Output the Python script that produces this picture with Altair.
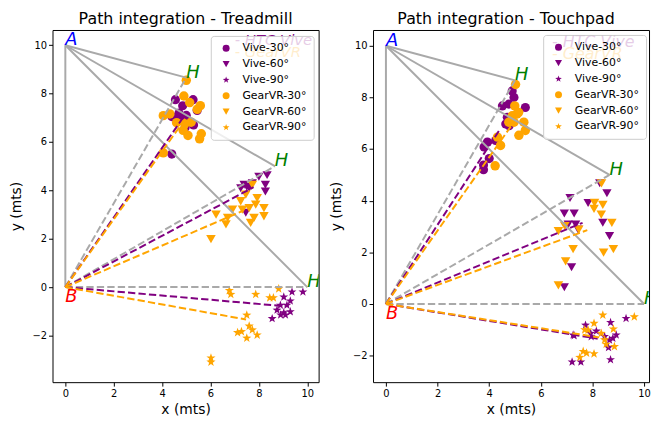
import altair as alt
import numpy as np
import pandas as pd

SERIES = ["Vive-30°", "Vive-60°", "Vive-90°", "GearVR-30°", "GearVR-60°", "GearVR-90°"]
SERIES_COLORS = ["purple", "purple", "purple", "orange", "orange", "orange"]
STAR = ("M0,-1L0.235,-0.324L0.951,-0.309L0.38,0.124L0.588,0.809L0,0.4"
        "L-0.588,0.809L-0.38,0.124L-0.951,-0.309L-0.235,-0.324Z")
SERIES_SHAPES = ["circle", "triangle-down", STAR, "circle", "triangle-down", STAR]
SERIES_SIZES = [85, 95, 150, 85, 95, 150]
SERIES_GROUP = ["Vive", "Vive", "Vive", "GearVR", "GearVR", "GearVR"]

H_X = [5.0, 8.66, 10.0]
H_Y = [8.66, 5.0, 0.0]
A_X, A_Y = 0.0, 10.0
B_X, B_Y = 0.0, 0.0

# ---------------- Treadmill ----------------
T_vive30_x = [4.55, 5.28, 4.85, 5.45, 4.40, 4.60, 4.75, 4.90, 5.05, 5.30, 4.95, 4.40, 4.70, 5.00]
T_vive30_y = [7.75, 7.75, 7.50, 7.30, 7.05, 6.95, 6.90, 7.00, 6.85, 6.70, 6.60, 5.50, 7.20, 7.10]
T_vive60_x = [8.34, 8.00, 7.39, 7.50, 7.73, 8.27, 8.27, 7.25, 7.46, 7.60]
T_vive60_y = [4.63, 4.56, 4.23, 4.15, 4.29, 4.23, 3.95, 4.09, 3.07, 4.10]
T_vive90_x = [9.37, 9.82, 9.03, 9.30, 8.89, 9.16, 8.75, 9.03, 9.30, 8.55, 9.10, 8.90]
T_vive90_y = [-0.20, -0.20, -0.41, -0.57, -0.75, -0.75, -0.95, -1.06, -1.02, -1.30, -1.15, -1.15]
T_gear30_x = [5.00, 4.90, 5.14, 5.58, 5.45, 4.05, 4.32, 4.94, 5.20, 4.87, 5.07, 5.62, 5.55, 4.05, 4.60]
T_gear30_y = [8.55, 7.90, 7.63, 7.50, 7.35, 7.09, 7.16, 6.75, 6.82, 6.48, 6.27, 6.34, 6.13, 5.55, 6.80]
T_gear60_x = [7.73, 7.46, 7.93, 7.25, 7.87, 6.91, 7.32, 7.60, 8.21, 7.80, 8.21, 7.66, 6.71, 6.23, 6.64, 6.02]
T_gear60_y = [4.23, 3.82, 3.68, 3.55, 3.41, 3.20, 3.20, 3.27, 3.27, 2.86, 2.93, 2.66, 2.86, 3.00, 2.59, 1.98]
T_gear90_x = [6.78, 6.84, 7.87, 8.82, 8.45, 8.60, 7.50, 7.60, 7.73, 7.12, 7.28, 7.93, 7.50, 6.02, 6.02]
T_gear90_y = [-0.14, -0.30, -0.30, -0.07, -0.44, -0.44, -1.16, -1.61, -1.77, -1.88, -1.84, -1.98, -2.11, -2.93, -3.10]

# ---------------- Touchpad ----------------
P_vive30_x = [4.89, 4.96, 4.51, 4.76, 5.40, 4.64, 4.77, 3.93, 3.80, 4.00, 3.78, 3.78, 4.25, 4.70]
P_vive30_y = [8.25, 8.00, 7.67, 7.74, 7.61, 6.97, 6.90, 6.27, 6.08, 5.63, 5.38, 5.20, 6.33, 7.23]
P_vive60_x = [8.28, 8.56, 7.13, 7.83, 6.91, 7.29, 8.40, 7.06, 7.35, 7.44, 8.66, 7.19, 6.91]
P_vive60_y = [4.67, 4.29, 4.10, 3.91, 3.50, 3.50, 3.14, 3.08, 3.08, 2.88, 2.63, 1.42, 0.65]
P_vive90_x = [9.30, 8.70, 7.73, 8.15, 7.93, 7.29, 8.92, 8.79, 8.66, 8.62, 7.21, 7.55, 8.70, 8.47, 7.95, 7.25]
P_vive90_y = [-0.56, -0.72, -0.82, -1.05, -1.14, -1.23, -1.20, -1.33, -1.40, -1.69, -2.25, -2.25, -2.16, -1.26, -1.27, -1.20]
P_gear30_x = [5.02, 4.99, 4.89, 5.08, 5.14, 4.76, 4.96, 5.34, 5.40, 5.15, 4.32, 4.44, 4.23]
P_gear30_y = [8.50, 7.67, 7.29, 7.36, 7.42, 7.04, 7.04, 7.04, 6.72, 6.53, 6.46, 6.14, 5.35]
P_gear60_x = [8.35, 8.08, 8.40, 8.06, 8.34, 8.75, 6.68, 6.93, 7.47, 7.25, 8.43, 8.81, 6.96, 6.68]
P_gear60_y = [4.67, 3.91, 3.84, 3.68, 3.46, 3.14, 2.82, 3.01, 2.88, 2.12, 1.99, 2.12, 1.65, 0.72]
P_gear90_x = [8.40, 9.62, 8.06, 8.81, 7.83, 8.34, 8.47, 8.53, 8.85, 7.64, 7.77, 8.06, 7.51, 7.70]
P_gear90_y = [-0.43, -0.50, -0.75, -0.97, -1.01, -1.14, -1.39, -1.56, -1.65, -1.84, -1.90, -1.93, -2.07, -1.00]

X_TICKS = [0, 2, 4, 6, 8, 10]
Y_TICKS = [-2, 0, 2, 4, 6, 8, 10]

FONT = "DejaVu Sans"


def points_df(xs_list, ys_list):
    rows = []
    for s, xs, ys in zip(SERIES, xs_list, ys_list):
        for x, y in zip(xs, ys):
            rows.append({"series": s, "x": x, "y": y})
    return pd.DataFrame(rows)


def mean_lines_df(xs_list, ys_list):
    rows = []
    for s, g, xs, ys in zip(SERIES, SERIES_GROUP, xs_list, ys_list):
        rows.append({"series": s, "grp": g, "x": B_X, "y": B_Y, "o": 0})
        rows.append({"series": s, "grp": g, "x": float(np.mean(xs)), "y": float(np.mean(ys)), "o": 1})
    return pd.DataFrame(rows)


def seg_df(pairs):
    rows = []
    for i, (p, q) in enumerate(pairs):
        rows.append({"seg": i, "x": p[0], "y": p[1], "o": 0})
        rows.append({"seg": i, "x": q[0], "y": q[1], "o": 1})
    return pd.DataFrame(rows)


def panel(title, xs_list, ys_list, xdom, ydom, width, height, faint_x, faint_y, faint_size,
          title_dx, legend_x, legend_y):
    xsc = alt.Scale(domain=xdom, nice=False, zero=False)
    ysc = alt.Scale(domain=ydom, nice=False, zero=False)
    xax = alt.Axis(values=X_TICKS, title="x (mts)", grid=False, domain=False,
                   tickColor="black", tickSize=4, labelFontSize=10, labelColor="black",
                   labelFont=FONT, titleFont=FONT, titleFontSize=14, titleFontWeight="normal",
                   titleColor="black", labelPadding=2, titlePadding=5, format="d")
    yax = alt.Axis(values=Y_TICKS, title="y (mts)", grid=False, domain=False,
                   tickColor="black", tickSize=4, labelFontSize=10, labelColor="black",
                   labelFont=FONT, titleFont=FONT, titleFontSize=14, titleFontWeight="normal",
                   titleColor="black", labelPadding=2, titlePadding=9, format="d")
    X = alt.X("x:Q", scale=xsc, axis=xax)
    Y = alt.Y("y:Q", scale=ysc, axis=yax)

    pts = alt.Chart(points_df(xs_list, ys_list)).mark_point(filled=True, opacity=1).encode(
        x=X, y=Y,
        color=alt.Color("series:N", scale=alt.Scale(domain=SERIES, range=SERIES_COLORS),
                        legend=alt.Legend(title=None, orient="none", legendX=legend_x, legendY=legend_y,
                                          fillColor="rgba(255,255,255,0.8)", strokeColor="#cccccc",
                                          cornerRadius=3, padding=7, symbolOffset=3,
                                          labelFont=FONT, labelFontSize=11, labelColor="black",
                                          symbolSize=50, rowPadding=4, labelOffset=11)),
        shape=alt.Shape("series:N", scale=alt.Scale(domain=SERIES, range=SERIES_SHAPES)),
        size=alt.Size("series:N", scale=alt.Scale(domain=SERIES, range=SERIES_SIZES), legend=None),
    )

    H_pts = list(zip(H_X, H_Y))
    A = (A_X, A_Y)
    B = (B_X, B_Y)
    solid = alt.Chart(seg_df([(A, h) for h in H_pts] + [(A, B)])).mark_line(
        color="darkgray", strokeWidth=2).encode(x=X, y=Y, detail="seg:N", order="o:Q")
    dashed = alt.Chart(seg_df([(B, h) for h in H_pts])).mark_line(
        color="darkgray", strokeWidth=2, strokeDash=[7.4, 3.2]).encode(
        x=X, y=Y, detail="seg:N", order="o:Q")
    means = alt.Chart(mean_lines_df(xs_list, ys_list)).mark_line(
        strokeWidth=2, strokeDash=[7.4, 3.2]).encode(
        x=X, y=Y, detail="series:N", order="o:Q",
        stroke=alt.Stroke("grp:N", scale=alt.Scale(domain=["Vive", "GearVR"], range=["purple", "orange"]),
                          legend=None))

    def txt(df, color, size=18):
        return alt.Chart(pd.DataFrame(df)).mark_text(
            color=color, font=FONT, fontSize=size, fontStyle="italic", align="left",
            baseline="alphabetic", clip=True).encode(x=X, y=Y, text="t:N")

    tA = txt({"x": [A_X], "y": [A_Y], "t": ["A"]}, "blue")
    tB = txt({"x": [B_X], "y": [-0.6], "t": ["B"]}, "red")
    tH = txt({"x": H_X, "y": H_Y, "t": ["H", "H", "H"]}, "green")
    fV = txt({"x": [faint_x], "y": [faint_y[0]], "t": ["- HTC Vive"]}, "purple", faint_size)
    fG = txt({"x": [faint_x], "y": [faint_y[1]], "t": ["- GearVR"]}, "orange", faint_size)

    return alt.layer(pts, solid, dashed, means, tA, tB, tH, fV, fG).properties(
        width=width, height=height,
        title=alt.TitleParams(title, fontSize=16, font=FONT, fontWeight="normal", color="black",
                              anchor="middle", offset=3, dx=title_dx))


left = panel("Path integration - Treadmill",
             [T_vive30_x, T_vive60_x, T_vive90_x, T_gear30_x, T_gear60_x, T_gear90_x],
             [T_vive30_y, T_vive60_y, T_vive90_y, T_gear30_y, T_gear60_y, T_gear90_y],
             [-0.53, 10.47], [-3.93, 10.63], 269, 356, 7.0, [10.0, 9.5], 15, 0, 160, 6)
right = panel("Path integration - Touchpad",
              [P_vive30_x, P_vive60_x, P_vive90_x, P_gear30_x, P_gear60_x, P_gear90_x],
              [P_vive30_y, P_vive60_y, P_vive90_y, P_gear30_y, P_gear60_y, P_gear90_y],
              [-0.5, 10.19], [-3.03, 10.61], 279, 356, 6.43, [9.96, 9.5], 16, -5, 172, 5)

chart = alt.hconcat(left, right, spacing=9).resolve_scale(
    x="independent", y="independent").resolve_legend(
    color="independent", shape="independent").configure_view(
    stroke="black", strokeWidth=1).properties(padding=0, background="white")

chart.save("out.html", embed_options={"renderer": "svg", "actions": False})
